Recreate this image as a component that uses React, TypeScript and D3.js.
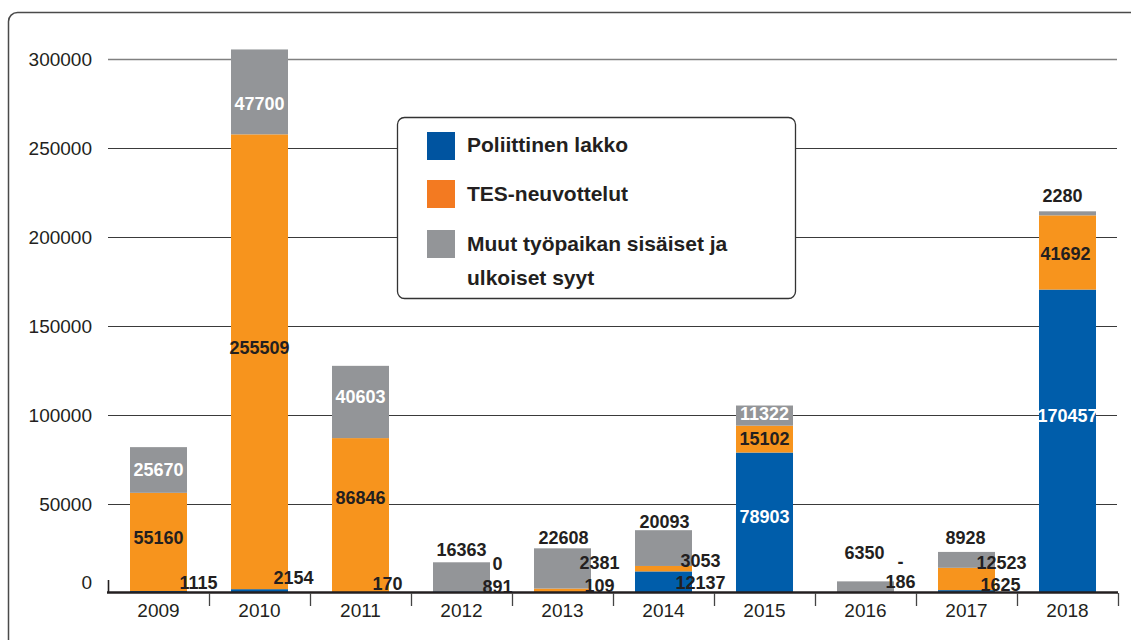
import React from 'react';
import * as d3 from 'd3';

const years = ['2009', '2010', '2011', '2012', '2013', '2014', '2015', '2016', '2017', '2018'];
const poliittinen = [1115, 2154, 170, 891, 109, 12137, 78903, 186, 1625, 170457];
const tesNeuvottelut: (number | null)[] = [55160, 255509, 86846, 0, 2381, 3053, 15102, null, 12523, 41692];
const muutSyyt = [25670, 47700, 40603, 16363, 22608, 20093, 11322, 6350, 8928, 2280];
const yTicks = [0, 50000, 100000, 150000, 200000, 250000, 300000];
const legendLabels = ['Poliittinen lakko', 'TES-neuvottelut', 'Muut työpaikan sisäiset ja', 'ulkoiset syyt'];

// years where the first segment is drawn in crimson
const crimsonYears = ['2011', '2016'];

// label nudges [dx, dy, colour] relative to segment centre (P, T, M per year)
const labelNudge: [number, number, string][][] = [
  [[40, -9, 'd'], [0, -4, 'd'], [0, 0, 'w']],
  [[34, -14, 'd'], [0, -14, 'd'], [0, 12, 'w']],
  [[27, -9, 'd'], [0, -18, 'd'], [0, -5, 'w']],
  [[36, -6, 'd'], [36, -28, 'd'], [0, -27, 'd']],
  [[37, -7, 'd'], [37, -28, 'd'], [1, -31, 'd']],
  [[37, 0, 'd'], [37, -8, 'd'], [1, -27, 'd']],
  [[0, -6, 'w'], [0, -1, 'd'], [0, -2, 'w']],
  [[35, -11, 'd'], [35, -31, 'd'], [-1, -34, 'd']],
  [[34, -7, 'd'], [35, -16, 'd'], [-1, -22, 'd']],
  [[0, -26, 'w'], [-2, 1, 'd'], [-5, -18, 'd']],
];

const BLUE = '#005DAA';
const ORANGE = '#F7941D';
const GRAY = '#939598';
const CRIMSON = '#C8164B';
const DARK = '#231F20';
const FONT = '"Liberation Sans", Arial, Helvetica, sans-serif';

export default function App() {
  const W = 1131, H = 640;
  const x = d3.scaleBand<string>().domain(years).range([108, 1118]).paddingInner(0.4356).paddingOuter(0.2178);
  const y = d3.scaleLinear().domain([0, 300000]).range([593, 59]);
  const bw = x.bandwidth();

  const bars: React.ReactNode[] = [];
  const labels: React.ReactNode[] = [];
  years.forEach((yr, i) => {
    const vals = [poliittinen[i], tesNeuvottelut[i] ?? 0, muutSyyt[i]];
    const texts = [String(poliittinen[i]), tesNeuvottelut[i] === null ? '-' : String(tesNeuvottelut[i]), String(muutSyyt[i])];
    const colors = [crimsonYears.includes(yr) ? CRIMSON : BLUE, ORANGE, GRAY];
    let base = 0;
    const x0 = x(yr)!;
    vals.forEach((v, s) => {
      const y0 = y(base);
      const y1 = y(base + v);
      let h = y0 - y1;
      let top = y1;
      if (s === 0 && h < 1.6 && v > 0) { h = 1.6; top = y0 - h; }
      if (v > 0) bars.push(<rect key={`b${i}-${s}`} x={x0} y={top} width={bw} height={h} fill={colors[s]} />);
      const [dx, dy, c] = labelNudge[i][s];
      labels.push(
        <text key={`l${i}-${s}`} x={x0 + bw / 2 + dx} y={(y0 + y1) / 2 + dy} dy="0.36em" textAnchor="middle"
          fontFamily={FONT} fontWeight="bold" fontSize={18} fill={c === 'w' ? '#FFFFFF' : DARK}>{texts[s]}</text>
      );
      base += v;
    });
  });

  const step = x.step();
  const tickXs = d3.range(1, years.length + 1).map(k => 108 + k * step);

  return (
    <svg width={W} height={H} style={{ position: 'absolute', left: 0, top: 0, background: '#fff' }}>
      <rect x={8.5} y={12.5} width={1150} height={650} rx={9} fill="#fff" stroke="#4a4a4a" strokeWidth={1.5} />
      {yTicks.filter(t => t > 0).map(t => (
        <line key={`g${t}`} x1={108} x2={1117} y1={Math.round(y(t)) + 0.5} y2={Math.round(y(t)) + 0.5}
          stroke={t === 300000 ? '#808080' : '#3a3a3a'} strokeWidth={t === 300000 ? 1.5 : 1.2} />
      ))}
      {yTicks.map(t => (
        <text key={`yt${t}`} x={92} y={y(t) + (t === 0 ? -11 : 0)} dy="0.36em" textAnchor="end"
          fontFamily={FONT} fontSize={19} fill={DARK}>{t}</text>
      ))}
      {bars}
      <line x1={107} x2={1118} y1={592.5} y2={592.5} stroke={DARK} strokeWidth={2.6} />
      <line x1={108.5} x2={108.5} y1={580} y2={593} stroke={DARK} strokeWidth={1.6} />
      {tickXs.map((tx, k) => (
        <line key={`tk${k}`} x1={Math.round(tx) + 0.5} x2={Math.round(tx) + 0.5} y1={593} y2={606} stroke="#444" strokeWidth={1.3} />
      ))}
      {years.map(yr => (
        <text key={`xt${yr}`} x={x(yr)! + bw / 2} y={610} dy="0.36em" textAnchor="middle"
          fontFamily={FONT} fontSize={19} fill={DARK}>{yr}</text>
      ))}
      {labels}
      <g>
        <rect x={397.5} y={117.5} width={398} height={181} rx={7} fill="#fff" stroke="#333" strokeWidth={1.3} />
        <rect x={427} y={132} width={28} height={28} fill="#0054A0" />
        <rect x={427} y={180} width={28} height={28} fill="#F37A21" />
        <rect x={427} y={230} width={28} height={28} fill={GRAY} />
        {[152, 201, 251, 285].map((by, k) => (
          <text key={`lg${k}`} x={467} y={by} fontFamily={FONT} fontWeight="bold" fontSize={21} fill={DARK}>{legendLabels[k]}</text>
        ))}
      </g>
    </svg>
  );
}
